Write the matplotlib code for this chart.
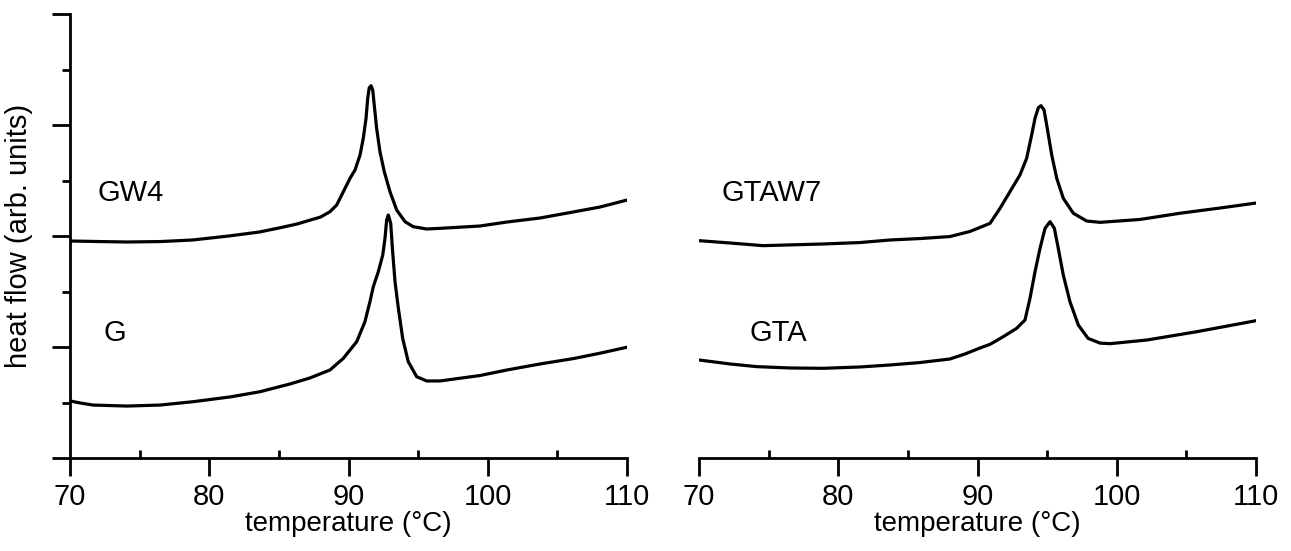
import matplotlib
matplotlib.use("Agg")
import matplotlib.pyplot as plt
from matplotlib.ticker import MultipleLocator, NullFormatter

plt.rcParams['font.family'] = ['Liberation Sans', 'DejaVu Sans']
plt.rcParams['font.size'] = 20

# GW4 (left, upper)
t_gw4 = [70.0, 72.15, 74.1, 76.5, 78.8, 81.4, 83.6, 85.0, 86.3, 88.0, 88.67, 89.15, 89.63,
         90.11, 90.47, 90.83, 91.06, 91.26, 91.38, 91.49, 91.62, 91.74, 91.85, 92.02, 92.26,
         92.57, 92.98, 93.46, 94.06, 94.65, 95.62, 96.57, 99.44, 101.38, 103.75, 106.12,
         108.06, 110.0]
y_gw4 = [1.955, 1.95, 1.946, 1.95, 1.964, 2.0, 2.036, 2.072, 2.108, 2.171, 2.219, 2.279, 2.399,
         2.520, 2.595, 2.730, 2.880, 3.060, 3.241, 3.336, 3.354, 3.315, 3.180, 2.970, 2.759,
         2.579, 2.399, 2.234, 2.129, 2.084, 2.063, 2.069, 2.09, 2.126, 2.162, 2.216,
         2.261, 2.324]

# G (left, lower)
t_g = [70.0, 70.72, 71.65, 74.09, 76.46, 78.83, 81.49, 83.64, 85.80, 87.23, 88.67, 89.63,
       90.59, 91.18, 91.54, 91.78, 92.14, 92.46, 92.62, 92.74, 92.86, 93.03, 93.17, 93.34,
       93.58, 93.89, 94.29, 94.90, 95.62, 96.57, 99.44, 101.38, 103.75, 106.12, 108.06, 110.0]
y_g = [0.514, 0.496, 0.477, 0.468, 0.477, 0.507, 0.550, 0.597, 0.667, 0.721, 0.793, 0.898,
       1.048, 1.228, 1.408, 1.543, 1.678, 1.829, 1.979, 2.144, 2.189, 2.114, 1.859, 1.588,
       1.349, 1.078, 0.868, 0.732, 0.694, 0.694, 0.743, 0.793, 0.847, 0.895, 0.944, 0.998]

# GTAW7 (right, upper)
t_gtaw7 = [70.0, 72.23, 74.60, 78.90, 81.56, 83.72, 85.87, 88.02, 89.46, 90.90, 91.62,
           92.33, 93.05, 93.53, 93.89, 94.13, 94.37, 94.56, 94.78, 95.01, 95.33, 95.69,
           96.16, 96.88, 97.84, 98.80, 101.67, 104.54, 107.41, 110.0]
y_gtaw7 = [1.958, 1.937, 1.913, 1.928, 1.941, 1.964, 1.977, 1.995, 2.041, 2.114, 2.250,
           2.399, 2.550, 2.700, 2.910, 3.060, 3.156, 3.174, 3.135, 2.970, 2.730, 2.520,
           2.340, 2.205, 2.135, 2.123, 2.149, 2.205, 2.252, 2.297]

# GTA (right, lower)
t_gta = [70.0, 72.23, 74.17, 76.54, 78.90, 81.56, 83.72, 85.87, 88.02, 89.10, 90.18,
         90.90, 91.85, 92.81, 93.41, 93.77, 94.13, 94.49, 94.85, 95.21, 95.52, 95.80,
         96.16, 96.64, 97.24, 97.94, 98.80, 99.52, 102.17, 105.76, 110.0]
y_gta = [0.883, 0.847, 0.823, 0.811, 0.808, 0.820, 0.838, 0.860, 0.892, 0.937, 0.991,
         1.024, 1.093, 1.168, 1.243, 1.439, 1.678, 1.889, 2.069, 2.129, 2.069, 1.889,
         1.649, 1.408, 1.198, 1.078, 1.035, 1.030, 1.063, 1.138, 1.237]

fig = plt.figure(figsize=(12.91, 5.51), dpi=100)
ax1 = fig.add_axes([70 / 1291, 93 / 551, 557 / 1291, 444 / 551])
ax2 = fig.add_axes([699 / 1291, 93 / 551, 557 / 1291, 444 / 551])

lw = 2.0
for ax, t, y in [(ax1, t_gw4, y_gw4), (ax1, t_g, y_g),
                 (ax2, t_gtaw7, y_gtaw7), (ax2, t_gta, y_gta)]:
    ax.plot(t, y, color='black', lw=2.3, solid_joinstyle='round', solid_capstyle='round')

ax1.text(72.0, 2.39, 'GW4', fontsize=21, va='center')
ax1.text(72.4, 1.13, 'G', fontsize=21, va='center')
ax2.text(71.6, 2.39, 'GTAW7', fontsize=21, va='center')
ax2.text(73.6, 1.13, 'GTA', fontsize=21, va='center')

for ax in (ax1, ax2):
    ax.set_xlim(70, 110)
    ax.set_ylim(0, 4)
    ax.spines['top'].set_visible(False)
    ax.spines['right'].set_visible(False)
    ax.spines['bottom'].set_linewidth(lw)
    ax.spines['left'].set_linewidth(lw)
    ax.xaxis.set_major_locator(MultipleLocator(10))
    ax.xaxis.set_minor_locator(MultipleLocator(5))
    ax.tick_params(axis='x', which='major', direction='out', length=13, width=lw, pad=5,
                   labelsize=21)
    ax.tick_params(axis='x', which='minor', direction='in', length=6, width=lw)
    ax.set_xlabel('temperature (°C)', fontsize=20, labelpad=0)

ax1.yaxis.set_major_locator(MultipleLocator(1))
ax1.yaxis.set_minor_locator(MultipleLocator(0.5))
ax1.yaxis.set_major_formatter(NullFormatter())
ax1.tick_params(axis='y', which='major', direction='out', length=13, width=lw)
ax1.tick_params(axis='y', which='minor', direction='out', length=6, width=lw)
ax1.set_ylabel('heat flow (arb. units)', fontsize=21, labelpad=10)

ax2.spines['left'].set_visible(False)
ax2.tick_params(axis='y', which='both', left=False, labelleft=False)

fig.savefig('out.png', dpi=100)
